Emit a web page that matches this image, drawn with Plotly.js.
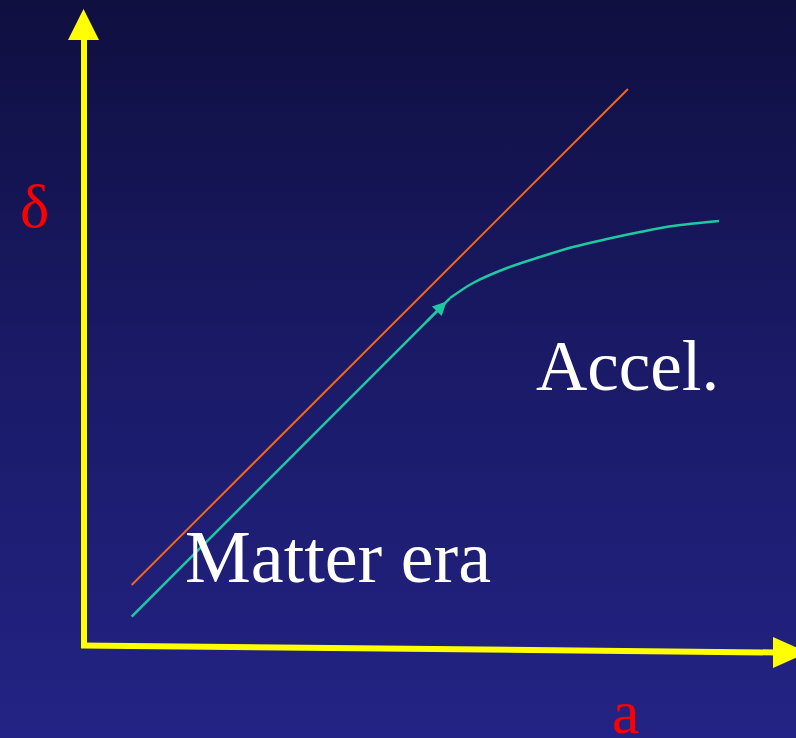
<!DOCTYPE html>
<html>
<head>
<meta charset="utf-8">
<script src="https://cdn.plot.ly/plotly-3.0.1.min.js"></script>
<style>
  html, body { margin: 0; padding: 0; }
  #chart {
    width: 796px; height: 738px;
    background: linear-gradient(to bottom, #0f0f40 0%, #1a1a68 50%, #232385 100%);
  }
</style>
</head>
<body>
<div id="chart"></div>
<script>
// Growth of the density contrast delta with scale factor a.
// Matter-only growth: delta grows in proportion to a.
const matterA = [0.681, 7.771];
const matterDelta = [0.871, 7.957];

// With acceleration: follows the matter-era line, then growth stalls.
const accelStraightA = [0.681, 5.229];
const accelStraightDelta = [0.419, 4.971];
const accelCurveA = [5.229, 5.557, 6.043, 6.514, 6.986, 7.471, 7.943, 8.414, 9.071];
const accelCurveDelta = [4.971, 5.186, 5.400, 5.557, 5.700, 5.814, 5.914, 6.000, 6.071];

const labels = { y: "δ", x: "a", late: "Accel.", early: "Matter era" };

// Axis frame: 70 px per unit, origin of the drawn axes at (84, 646) px.
const W = 796, H = 738, UNIT = 70, OX = 84, OY = 646;
const xRange = [-OX / UNIT, (W - OX) / UNIT];
const yRange = [(OY - H) / UNIT, OY / UNIT];
const ax = px => (px - OX) / UNIT;   // pixel -> a
const dy = py => (OY - py) / UNIT;   // pixel -> delta

const yellow = "#ffff00";
const teal = "#1ec9a2";
const serif = "Liberation Serif, Times New Roman, serif";

const traces = [
  { x: matterA, y: matterDelta, mode: "lines", type: "scatter",
    line: { color: "#f0661e", width: 2 }, hoverinfo: "skip" },
  { x: accelStraightA, y: accelStraightDelta, mode: "lines", type: "scatter",
    line: { color: teal, width: 2.5 }, hoverinfo: "skip" },
  { x: accelCurveA, y: accelCurveDelta, mode: "lines", type: "scatter",
    line: { color: teal, width: 2.5, shape: "spline", smoothing: 0.9 }, hoverinfo: "skip" }
];

const tri = pts => "M" + pts.map(p => ax(p[0]) + "," + dy(p[1])).join(" L") + " Z";

const shapes = [
  // vertical axis with arrow
  { type: "line", x0: ax(84), y0: dy(648), x1: ax(84), y1: dy(38),
    line: { color: yellow, width: 6 } },
  { type: "path", path: tri([[68, 40], [99, 40], [83.5, 9]]),
    fillcolor: yellow, line: { width: 0 } },
  // horizontal axis with arrow
  { type: "line", x0: ax(81), y0: dy(645.5), x1: ax(776), y1: dy(652.5),
    line: { color: yellow, width: 6 } },
  { type: "path", path: tri([[773, 637], [773, 668], [808, 652.5]]),
    fillcolor: yellow, line: { width: 0 } }
];

const annotations = [
  { x: accelStraightA[1] - 0.05, y: accelStraightDelta[1] - 0.05,
    ax: accelStraightA[1] - 0.35, ay: accelStraightDelta[1] - 0.35,
    axref: "x", ayref: "y", showarrow: true, arrowhead: 2, arrowsize: 1.1,
    arrowwidth: 2.5, arrowcolor: teal, text: "" },
  { x: ax(34.5), y: dy(206), text: labels.y, showarrow: false,
    font: { family: serif, size: 62, color: "#ff0000" }, xanchor: "center", yanchor: "middle" },
  { x: ax(625.5), y: dy(738), text: labels.x, showarrow: false,
    font: { family: serif, size: 62, color: "#ff0000" }, xanchor: "center", yanchor: "bottom",
    yshift: -9, borderpad: 0 },
  { x: ax(627), y: dy(366), text: labels.late, showarrow: false,
    font: { family: serif, size: 71, color: "#ffffff" }, xanchor: "center", yanchor: "middle" },
  { x: ax(338), y: dy(557), text: labels.early, showarrow: false,
    font: { family: serif, size: 74, color: "#ffffff" }, xanchor: "center", yanchor: "middle" }
];

const layout = {
  width: W, height: H,
  margin: { l: 0, r: 0, t: 0, b: 0, pad: 0 },
  paper_bgcolor: "rgba(0,0,0,0)", plot_bgcolor: "rgba(0,0,0,0)",
  showlegend: false,
  xaxis: { range: xRange, visible: false, fixedrange: true },
  yaxis: { range: yRange, visible: false, fixedrange: true },
  shapes: shapes,
  annotations: annotations
};

Plotly.newPlot("chart", traces, layout, { staticPlot: true, displayModeBar: false });
</script>
</body>
</html>
